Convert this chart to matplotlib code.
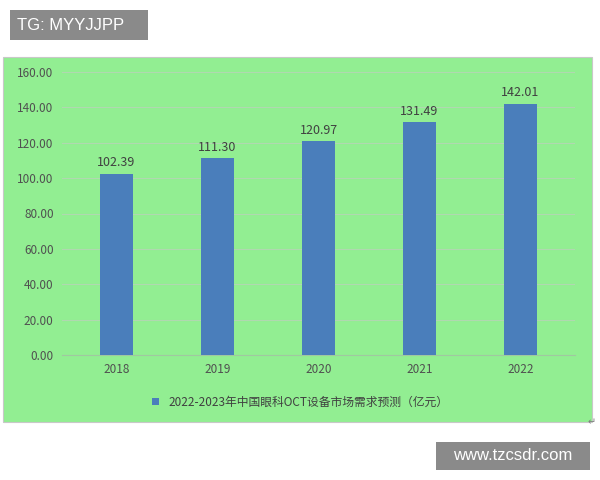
import matplotlib
matplotlib.use("Agg")
import matplotlib.pyplot as plt
from matplotlib.patches import Rectangle

years = ["2018", "2019", "2020", "2021", "2022"]
values = [102.39, 111.30, 120.97, 131.49, 142.01]
yticks = [0, 20, 40, 60, 80, 100, 120, 140, 160]
legend_label = "2022-2023年中国眼科OCT设备市场需求预测（亿元）"

plt.rcParams['font.family'] = ['Noto Sans CJK SC', 'DejaVu Sans']
fig = plt.figure(figsize=(6, 4.8), dpi=100)
fig.patch.set_facecolor("white")
green = "#92ee92"
fig.add_artist(Rectangle((3/600, 1-422/480), 589/600, 365/480, transform=fig.transFigure,
                         facecolor=green, edgecolor="#c8c8c8", lw=0.8, zorder=0))
ax = fig.add_axes([62/600, 1-355/480, 513/600, 283/480])
ax.set_facecolor(green)
x = range(len(years))
bars = ax.bar(x, values, width=0.32, color="#4a7ebb", zorder=3)
for xi, v in zip(x, values):
    ax.text(xi, v + 2.5, f"{v:.2f}", ha="center", va="bottom", fontsize=9, color="#404040")
ax.set_xlim(-0.54, 4.54)
ax.set_ylim(0, 160)
ax.set_yticks(yticks)
ax.set_yticklabels([f"{t:.2f}" for t in yticks], fontsize=8.5, color="#505050")
ax.set_xticks(list(x))
ax.set_xticklabels(years, fontsize=8.5, color="#505050")
ax.grid(axis="y", color="#b0d8b0", lw=0.8, zorder=0)
for s in ["top", "right", "left"]:
    ax.spines[s].set_visible(False)
ax.spines["bottom"].set_color("#a0c8a0")
ax.tick_params(length=0, pad=6)
fig.legend([bars], [legend_label], loc="center", bbox_to_anchor=(0.5, 1-402/480),
           frameon=False, fontsize=8.5, handlelength=0.6, handleheight=0.6, labelcolor="#404040")
fig.add_artist(Rectangle((10/600, 1-40/480), 138/600, 30/480, transform=fig.transFigure,
                         facecolor="#8a8a8a", edgecolor="none"))
fig.text(17/600, 1-25/480, "TG: MYYJJPP", fontsize=12, color="white", va="center",
         family="Liberation Sans")
fig.add_artist(Rectangle((436/600, 1-470/480), 154/600, 28/480, transform=fig.transFigure,
                         facecolor="#8a8a8a", edgecolor="none"))
fig.text(513/600, 1-456/480, "www.tzcsdr.com", fontsize=12, color="white", va="center",
         ha="center", family="Liberation Sans")
fig.text(588/600, 1-422/480, "↵", fontsize=7, color="#808080", va="center", family="DejaVu Sans")
fig.savefig("out.png", dpi=100)
